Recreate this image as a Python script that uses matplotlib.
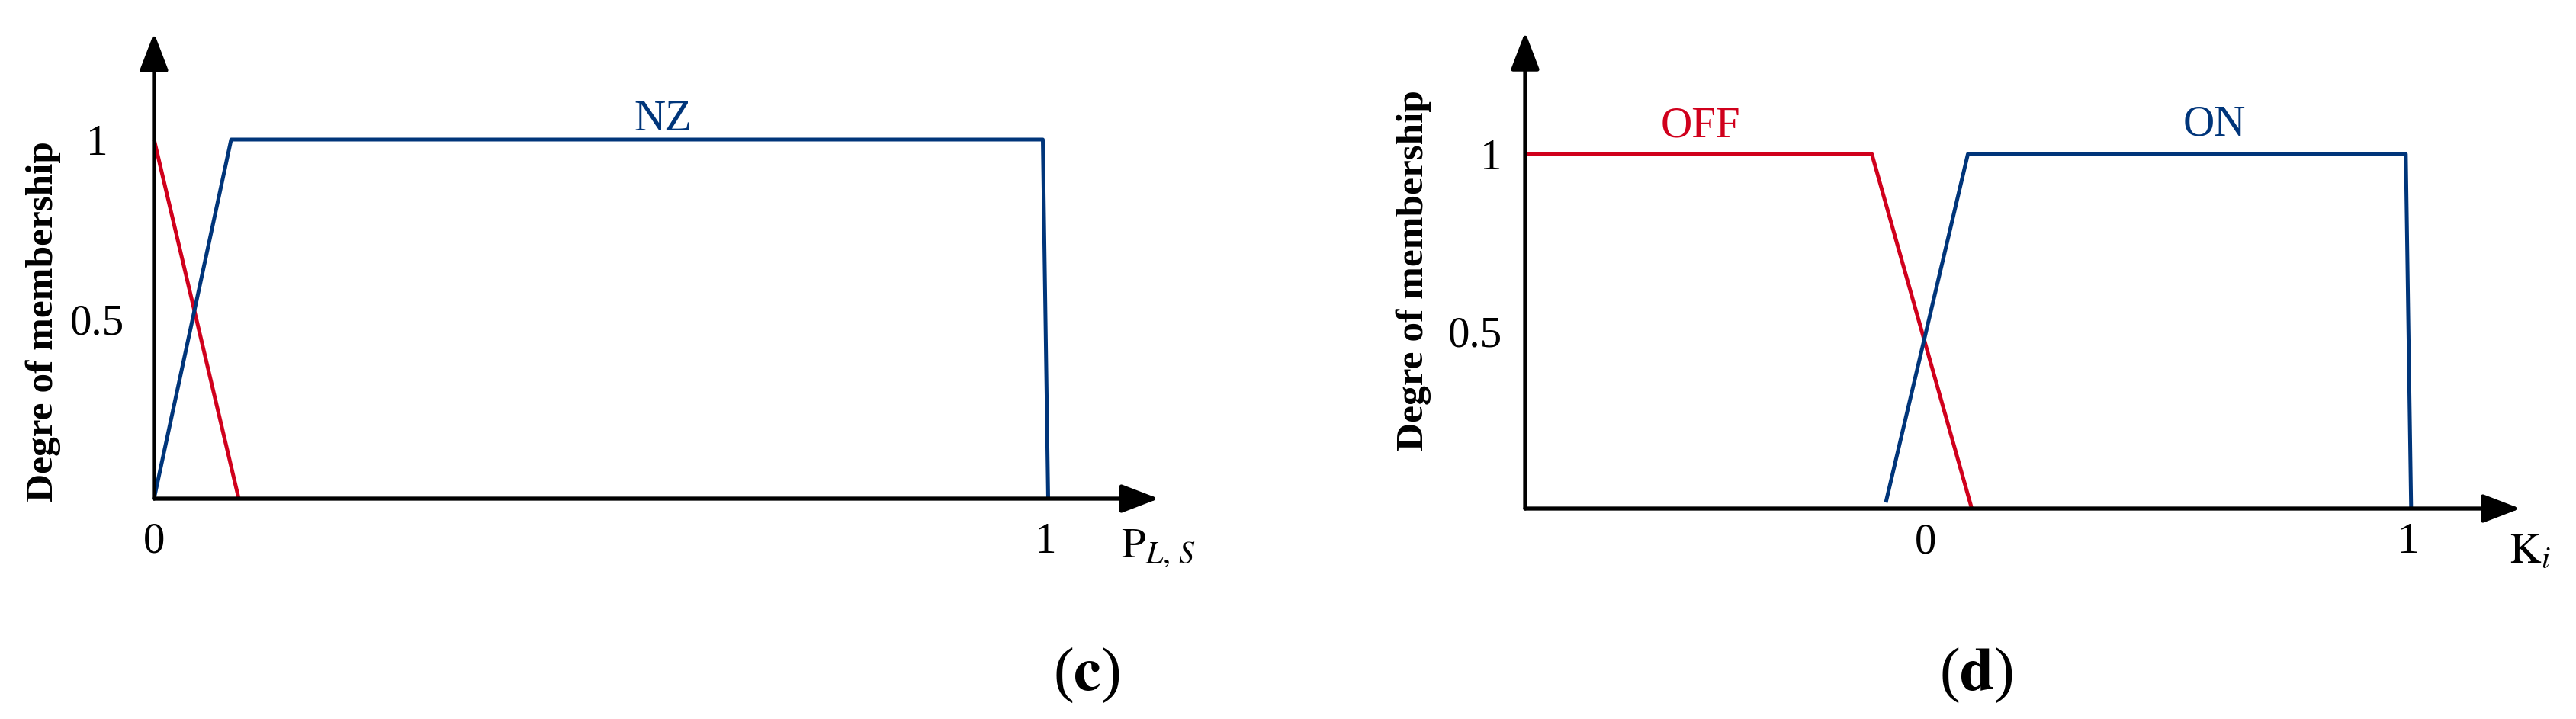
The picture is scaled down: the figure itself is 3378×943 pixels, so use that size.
import matplotlib.pyplot as plt

plt.rcParams['font.family'] = ['Liberation Serif', 'DejaVu Serif']
plt.rcParams['mathtext.fontset'] = 'stix'

red = '#D0001C'
blue = '#00357A'

# (c) membership functions over P_L,S
c_zero_x = [0, 0.095]
c_zero_y = [1, 0]
c_nz_x = [0, 0.0865, 0.997, 1.003]
c_nz_y = [0, 1, 1, 0]
c_xticks = [0, 1]
c_xticklabels = ['0', '1']

# (d) membership functions over K_i
d_off_x = [-0.829, -0.111, 0.096]
d_off_y = [1, 1, 0]
d_on_x = [-0.082, 0.088, 0.995, 1.006]
d_on_y = [0.017, 1, 1, 0]
d_xticks = [0, 1]
d_xticklabels = ['0', '1']

yticks = [0.5, 1]
yticklabels = ['0.5', '1']

W, H = 3378, 943
fig = plt.figure(figsize=(W / 100, H / 100), dpi=100)


def px_axes(x0, x1, y0, y1):
    # pixel columns of the x limits, pixel rows of y=0 and y=1
    ax = fig.add_axes([x0 / W, (H - y0) / H, (x1 - x0) / W, (y0 - y1) / H])
    for s in ax.spines.values():
        s.set_visible(False)
    ax.patch.set_visible(False)
    ax.set_yticks([])
    return ax


def arrows(ax, x0, xtip, ytip):
    kw = dict(arrowstyle='-|>,head_length=1.2,head_width=0.46', mutation_scale=25,
              lw=3.8, color='black', shrinkA=0, shrinkB=0, capstyle='round')
    ax.annotate('', xy=(xtip, 0), xytext=(x0, 0), arrowprops=kw, annotation_clip=False)
    ax.annotate('', xy=(x0, ytip), xytext=(x0, 0), arrowprops=kw, annotation_clip=False)


def ylabels(ax, xpos, ha):
    for v, lab in zip(yticks, yticklabels):
        ax.text(xpos, v, lab, fontsize=41, ha=ha, va='center_baseline',
                transform=ax.get_yaxis_transform())


# ---- panel (c)
ax = px_axes(202, 1371, 654, 183)
ax.set_xlim(0, 1)
ax.set_ylim(0, 1)
arrows(ax, 0, 1.127, 1.297)
ax.plot(c_zero_x, c_zero_y, color=red, lw=3.6, clip_on=False, solid_capstyle='butt')
ax.plot(c_nz_x, c_nz_y, color=blue, lw=3.6, clip_on=False, solid_capstyle='butt')
ax.set_xticks(c_xticks, c_xticklabels, fontsize=41)
ax.tick_params(axis='x', length=0, pad=22)
ylabels(ax, -0.064, 'center')
ax.text(0.571, 1.025, 'NZ', color=blue, fontsize=41, ha='center', va='baseline')
ax.text(1.085, -0.163, r'$\mathrm{P}_{L,\,S}$', fontsize=41, ha='left', va='baseline')
ax.set_ylabel('Degre of membership', fontsize=37, fontweight='bold')
ax.yaxis.set_label_coords(-0.104, 0.493)

# ---- panel (d)
ax = px_axes(2000, 3158, 667, 202)
ax.set_xlim(-0.829, 1)
ax.set_ylim(0, 1)
arrows(ax, -0.829, 1.232, 1.344)
ax.plot(d_off_x, d_off_y, color=red, lw=3.6, clip_on=False, solid_capstyle='butt')
ax.plot(d_on_x, d_on_y, color=blue, lw=3.6, clip_on=False, solid_capstyle='butt')
ax.set_xticks(d_xticks, d_xticklabels, fontsize=41)
ax.tick_params(axis='x', length=0, pad=13)
ylabels(ax, -0.026, 'right')
ax.text(-0.466, 1.049, 'OFF', color=red, fontsize=41, ha='center', va='baseline')
ax.text(0.599, 1.052, 'ON', color=blue, fontsize=41, ha='center', va='baseline')
ax.text(1.209, -0.151, r'$\mathrm{K}_{i}$', fontsize=41, ha='left', va='baseline')
ax.set_ylabel('Degre of membership', fontsize=37, fontweight='bold')
ax.yaxis.set_label_coords(-0.106, 0.671)

fig.text(1425 / W, 1 - 886 / H, r'($\mathbf{c}$)', fontsize=58, ha='center', va='center')
fig.text(2591 / W, 1 - 886 / H, r'($\mathbf{d}$)', fontsize=58, ha='center', va='center')

fig.savefig('out.png', dpi=100)
